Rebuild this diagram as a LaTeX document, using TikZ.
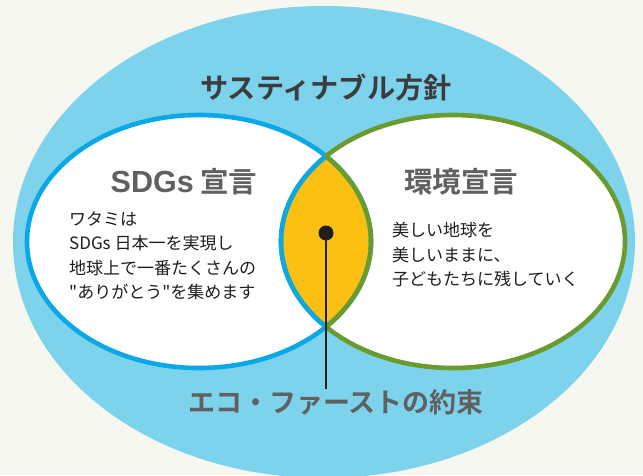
\documentclass[tikz,border=0pt]{standalone}
\usepackage{fontspec}
\newfontfamily\jp{Noto Sans CJK JP}
\newfontfamily\jpb{Noto Sans CJK JP Bold}
\newfontfamily\latb{Liberation Sans Bold}
\definecolor{bg}{HTML}{F6F7F0}
\definecolor{sky}{HTML}{7DD2EC}
\definecolor{sdgblue}{HTML}{0AA8E6}
\definecolor{ecogreen}{HTML}{6A9B2E}
\definecolor{lens}{HTML}{FCC012}
\definecolor{titlegray}{HTML}{3C3C3C}
\definecolor{headgray}{HTML}{606060}
\definecolor{bodyink}{HTML}{1E1E1E}
\tikzset{
  ring/.style={line width=4.6pt},
  titletext/.style={font=\jpb\fontsize{28.2}{30}\selectfont, text=titlegray, inner sep=0},
  headtext/.style={font=\jpb\fontsize{28.5}{30}\selectfont, text=headgray, inner sep=0},
  bodytext/.style={font=\jp\fontsize{17}{24.5}\selectfont, text=bodyink, align=left, inner sep=0, anchor=north west},
}
\begin{document}
\begin{tikzpicture}[x=1pt,y=-1pt]
\useasboundingbox (0,0) rectangle (643,475);
\clip (0,0) rectangle (643,475);
\fill[bg] (0,0) rectangle (643,475);
\fill[sky] (324,242) ellipse [x radius=311pt, y radius=236pt];
\fill[white] (199,241.5) ellipse [x radius=172pt, y radius=126.5pt];
\fill[white] (453,241.5) ellipse [x radius=172pt, y radius=126.5pt];
\begin{scope}
  \clip (199,241.5) ellipse [x radius=172pt, y radius=126.5pt];
  \fill[lens] (453,241.5) ellipse [x radius=172pt, y radius=126.5pt];
\end{scope}
\draw[ring, sdgblue] (199,241.5) ellipse [x radius=172pt, y radius=126.5pt];
\draw[ring, ecogreen] (453,241.5) ellipse [x radius=172pt, y radius=126.5pt];
\begin{scope}
  \clip (199,241.5) ellipse [x radius=172pt, y radius=126.5pt];
  \draw[ring, sdgblue] (453,241.5) ellipse [x radius=172pt, y radius=126.5pt];
\end{scope}
\begin{scope}
  \clip (453,241.5) ellipse [x radius=172pt, y radius=126.5pt];
  \draw[ring, ecogreen] (199,241.5) ellipse [x radius=172pt, y radius=126.5pt];
\end{scope}

\node[titletext] (title) at (326,88) {サスティナブル方針};
\node[headtext] (sdgs) at (184,182) {{\latb\fontsize{30.5}{30}\selectfont SDGs} 宣言};
\node[headtext] (env) at (461,182) {環境宣言};
\node[bodytext] (sdgsbody) at (69,211) {ワタミは\\SDGs 日本一を実現し\\地球上で一番たくさんの\\"ありがとう"を集めます};
\node[bodytext] (envbody) at (392,222) {美しい地球を\\美しいままに、\\子どもたちに残していく};
\node[font=\jpb\fontsize{27}{30}\selectfont, text=headgray, inner sep=0] (eco) at (336,402) {エコ・ファーストの約束};
\node[circle, fill=black!88, minimum size=15pt, inner sep=0] (dot) at (326,233) {};
\draw[line width=1.7pt, black!88] (dot.center) -- (dot.center |- eco.north);
\end{tikzpicture}
\end{document}
